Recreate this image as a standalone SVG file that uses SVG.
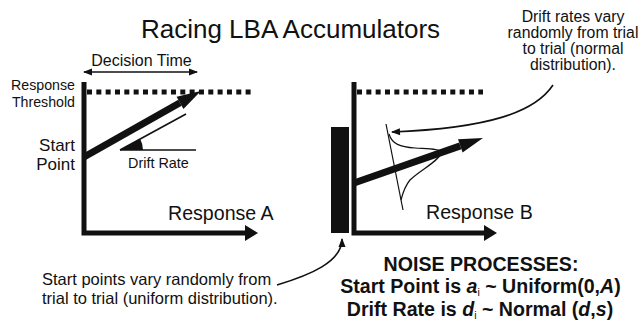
<svg xmlns="http://www.w3.org/2000/svg" width="644" height="324" viewBox="0 0 644 324">
<style>
text{font-family:"Liberation Sans",Arial,sans-serif;fill:#111}
.axis{fill:none;stroke:#111;stroke-width:5;stroke-linejoin:miter}
.thr{fill:none;stroke:#111;stroke-width:5;stroke-dasharray:5 4.33}
.thick{fill:none;stroke:#111;stroke-width:7}
.thin{fill:none;stroke:#111;stroke-width:1.6}
.hair{fill:none;stroke:#111;stroke-width:1.2}
.bold{font-weight:bold}
</style>
<defs>
<marker id="head" markerUnits="userSpaceOnUse" markerWidth="30" markerHeight="20" viewBox="0 -10 30 20" refX="0" refY="0" orient="auto" overflow="visible">
<path d="M0,-7 L24,0 L0,7 z" fill="#111"/>
</marker>
<marker id="small" markerUnits="userSpaceOnUse" markerWidth="12" markerHeight="10" viewBox="0 -5 12 10" refX="8" refY="0" orient="auto-start-reverse" overflow="visible">
<path d="M0,-3.5 L9,0 L0,3.5 z" fill="#111"/>
</marker>
</defs>

<text x="290.5" y="38" text-anchor="middle" font-size="26">Racing LBA Accumulators</text>

<g id="panelA">
<path class="axis" d="M84,82 V233 H246"/>
<polygon points="245,225 258,233 245,241" fill="#111"/>
<path class="thr" d="M87,92 H253"/>
<line class="thick" x1="84" y1="157" x2="180" y2="102.8" marker-end="url(#head)"/>
<line class="thin" x1="84" y1="72" x2="197" y2="72" marker-start="url(#small)" marker-end="url(#small)"/>
<text x="141.5" y="66" text-anchor="middle" font-size="16">Decision Time</text>
<text x="75" y="90" text-anchor="end" font-size="14.2">Response</text>
<text x="75" y="107" text-anchor="end" font-size="14.2">Threshold</text>
<text x="75" y="151" text-anchor="end" font-size="17">Start</text>
<text x="75" y="169.5" text-anchor="end" font-size="17">Point</text>
<line class="thin" x1="120" y1="150" x2="196" y2="150"/>
<line class="thin" x1="120" y1="150" x2="186" y2="114"/>
<path d="M120,150 L143,150 A23,23 0 0,0 140.2,139 Z" fill="#111"/>
<text x="128" y="168" font-size="14.4">Drift Rate</text>
<text x="168" y="220" font-size="19.6">Response A</text>
</g>

<g id="panelB">
<rect x="331" y="127" width="18" height="106" fill="#111"/>
<path class="axis" d="M354,82 V233 H485"/>
<polygon points="484,225 497,233 484,241" fill="#111"/>
<path class="thr" d="M357,92 H483"/>
<line class="hair" x1="386" y1="124" x2="403" y2="210"/>
<path class="hair" d="M389,134 C392,144 400,147 415,148 C430,149 440,149 442,152 C438,162 420,170 410,180 C405,186 403,192 401,200"/>
<line class="thick" x1="354" y1="183" x2="460.3" y2="145.85" marker-end="url(#head)"/>
<text x="426" y="219" font-size="19.6">Response B</text>
</g>

<g id="connectors">
<path class="thin" d="M553,85 C535,112 490,128 392,132" marker-end="url(#small)"/>
<path class="thin" d="M277,285 C310,275 342,262 342,239" marker-end="url(#small)"/>
</g>

<g id="note-drift">
<text x="573" y="22" text-anchor="middle" font-size="15.8">Drift rates vary</text>
<text x="573" y="38" text-anchor="middle" font-size="15.8">randomly from trial</text>
<text x="573" y="54" text-anchor="middle" font-size="15.8">to trial (normal</text>
<text x="573" y="70" text-anchor="middle" font-size="15.8">distribution).</text>
</g>

<g id="note-start">
<text x="42" y="285" font-size="16.5">Start points vary randomly from</text>
<text x="42" y="303.5" font-size="16.5">trial to trial (uniform distribution).</text>
</g>

<g id="noise">
<text class="bold" x="481" y="271" text-anchor="middle" font-size="19.6">NOISE PROCESSES:</text>
<text class="bold" x="480.5" y="292.5" text-anchor="middle" font-size="19.6">Start Point is <tspan font-style="italic">a</tspan><tspan font-size="10.5" font-weight="normal" dy="3">i</tspan><tspan dy="-3"> ~ Uniform(0,</tspan><tspan font-style="italic">A</tspan>)</text>
<text class="bold" x="480" y="315.5" text-anchor="middle" font-size="19.6">Drift Rate is <tspan font-style="italic">d</tspan><tspan font-size="10.5" font-weight="normal" dy="3">i</tspan><tspan dy="-3"> ~ Normal (</tspan><tspan font-style="italic">d</tspan>,<tspan font-style="italic">s</tspan>)</text>
</g>
</svg>
